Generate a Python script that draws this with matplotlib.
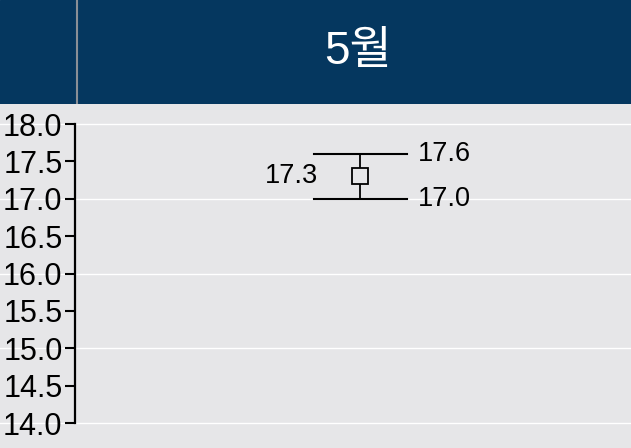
import matplotlib
matplotlib.use("Agg")
import matplotlib.pyplot as plt
import numpy as np

plt.rcParams['font.family'] = ['Liberation Sans', 'Noto Sans CJK KR', 'DejaVu Sans']

# data
months = ["5월"]
mean_vals = [17.3]
upper_vals = [17.6]
lower_vals = [17.0]
yticks = [14.0, 14.5, 15.0, 15.5, 16.0, 16.5, 17.0, 17.5, 18.0]

W, H = 631, 448
fig = plt.figure(figsize=(W / 100, H / 100), dpi=100)
fig.patch.set_facecolor('#e6e6e8')

# header band
hdr = fig.add_axes([0, 1 - 104 / H, 1, 104 / H])
hdr.set_xlim(0, W)
hdr.set_ylim(0, 104)
hdr.axis('off')
hdr.add_patch(plt.Rectangle((0, 0), W, 104, color='#05375f'))
hdr.plot([77, 77], [0, 104], color='#8a8f96', lw=1.5)
hdr.text((77 + W) / 2 + 4, 52, months[0], color='white', fontsize=33,
         ha='center', va='center', family=['Liberation Sans', 'Noto Sans CJK KR'])

# main panel
ax = fig.add_axes([0, 0, 1, 1 - 104 / H])
ax.set_facecolor('#e6e6e8')
px = 74.75
ax.set_ylim(14 - 25 / px, 18 + 20 / px)
x = np.arange(len(months))
ax.set_xlim(x[0] - 360 / 554, x[0] + 271 / 554)

for s in ['top', 'right', 'bottom']:
    ax.spines[s].set_visible(False)
ax.spines['left'].set_position(('axes', 75 / W))
ax.spines['left'].set_bounds(14, 18)
ax.spines['left'].set_linewidth(1.6)
ax.set_yticks(yticks)
ax.set_yticklabels([f"{v:.1f}" for v in yticks])
ax.tick_params(axis='y', length=7, width=1.5, labelsize=22, pad=2, colors='black')
ax.set_xticks([])
for g in [14, 15, 16, 17, 18]:
    ax.axhline(g, color='white', lw=1, zorder=0)

cap = 93 / 554 / 2
for xi, m, u, l in zip(x, mean_vals, upper_vals, lower_vals):
    ax.plot([xi, xi], [l, u], color='black', lw=1.3, zorder=2)
    ax.plot([xi - cap, xi + cap], [u, u], color='black', lw=1.5, zorder=2)
    ax.plot([xi - cap, xi + cap], [l, l], color='black', lw=1.5, zorder=2)
    ax.plot([xi], [m], marker='s', ms=11, mfc='#e6e6e8', mec='black', mew=1.3, zorder=3)
    ax.text(xi + cap + 11 / 554, u, f"{u:.1f}", fontsize=19.5, va='center', ha='left')
    ax.text(xi + cap + 11 / 554, l, f"{l:.1f}", fontsize=19.5, va='center', ha='left')
    ax.text(xi - 42 / 554, m, f"{m:.1f}", fontsize=19.5, va='center', ha='right')

fig.savefig('out.png', dpi=100, facecolor=fig.get_facecolor())
